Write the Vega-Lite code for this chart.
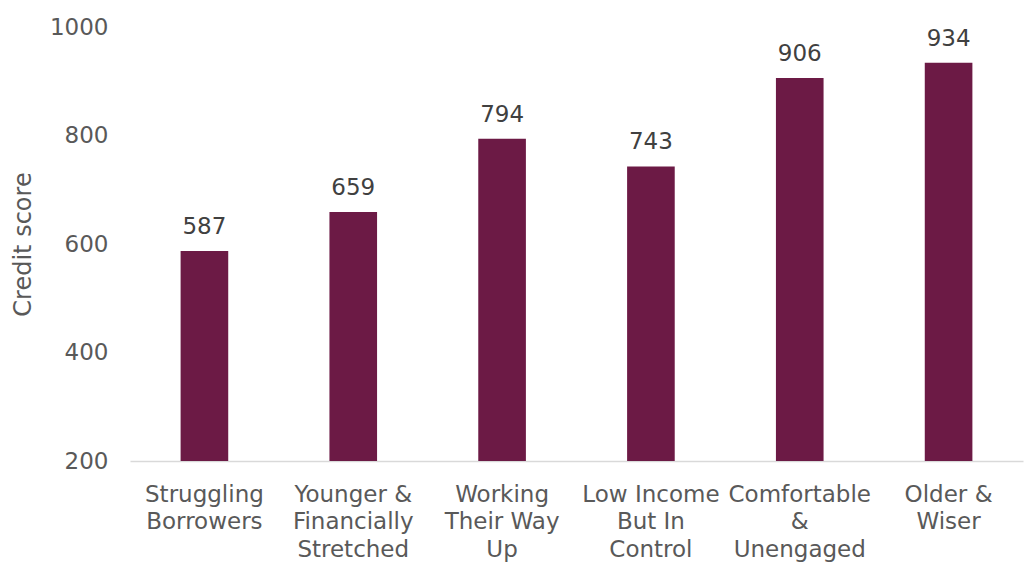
{
  "$schema": "https://vega.github.io/schema/vega-lite/v6.json",
  "autosize": "none",
  "width": 893,
  "height": 434,
  "padding": {"left": 130, "top": 27, "right": 1, "bottom": 102},
  "background": "white",
  "config": {
    "view": {"stroke": null},
    "font": "DejaVu Sans",
    "axis": {"labelFont": "DejaVu Sans", "titleFont": "DejaVu Sans", "labelColor": "#595959", "titleColor": "#595959", "grid": false}
  },
  "data": {
    "values": [
      {"segment": "Struggling Borrowers", "score": 587},
      {"segment": "Younger & Financially Stretched", "score": 659},
      {"segment": "Working Their Way Up", "score": 794},
      {"segment": "Low Income But In Control", "score": 743},
      {"segment": "Comfortable & Unengaged", "score": 906},
      {"segment": "Older & Wiser", "score": 934}
    ]
  },
  "encoding": {
    "x": {
      "field": "segment",
      "type": "nominal",
      "sort": null,
      "scale": {"paddingInner": 0.68, "paddingOuter": 0.34},
      "axis": {
        "title": null,
        "labelAngle": 0,
        "labelFontSize": 23,
        "labelLineHeight": 27.5,
        "labelPadding": 22,
        "labelBaseline": "top",
        "ticks": false,
        "domainColor": "#D9D9D9",
        "domainWidth": 1.5,
        "labelLimit": 250,
        "labelExpr": "{'Struggling Borrowers':['Struggling','Borrowers'],'Younger & Financially Stretched':['Younger &','Financially','Stretched'],'Working Their Way Up':['Working','Their Way','Up'],'Low Income But In Control':['Low Income','But In','Control'],'Comfortable & Unengaged':['Comfortable','&','Unengaged'],'Older & Wiser':['Older &','Wiser']}[datum.value]"
      }
    },
    "y": {
      "field": "score",
      "type": "quantitative",
      "scale": {"domain": [200, 1000], "nice": false, "zero": false},
      "axis": {
        "title": "Credit score",
        "titleFontSize": 24,
        "titleFontWeight": "normal",
        "titlePadding": 14,
        "values": [200, 400, 600, 800, 1000],
        "format": "d",
        "labelFontSize": 23,
        "labelPadding": 22,
        "ticks": false,
        "domain": false
      }
    }
  },
  "layer": [
    {"mark": {"type": "bar", "color": "#6C1A45", "clip": true}},
    {
      "mark": {"type": "text", "baseline": "alphabetic", "dy": -17, "fontSize": 23, "color": "#404040"},
      "encoding": {"text": {"field": "score", "type": "quantitative"}}
    }
  ]
}
